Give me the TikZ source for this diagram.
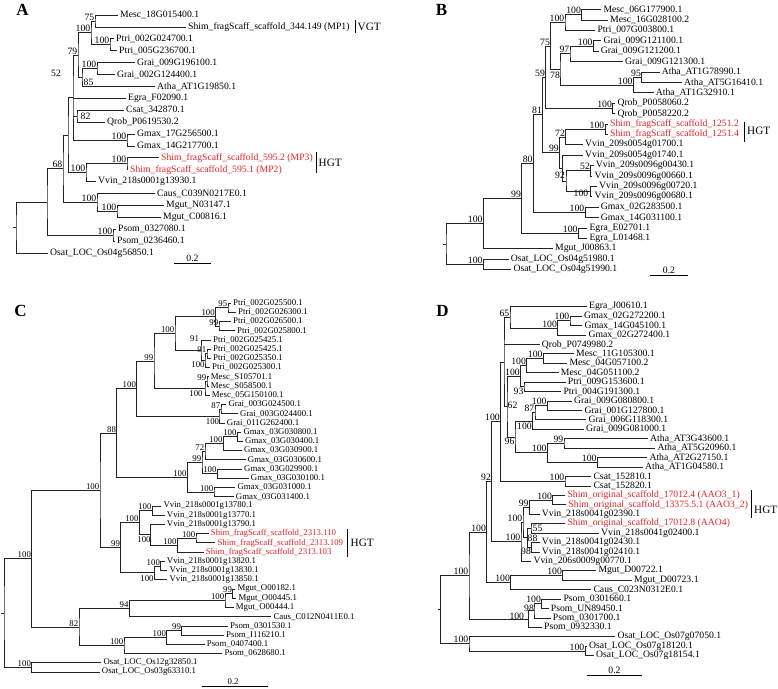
\documentclass[tikz,border=0pt]{standalone}
\usepackage{fontspec}
\setmainfont{Liberation Serif}
\usetikzlibrary{calc}
\definecolor{hgtred}{RGB}{225,35,40}
\definecolor{brc}{RGB}{35,35,35}
\newcommand\pfs{\fontsize{9.7}{11}\selectfont}
\tikzset{
 brn/.style={draw=brc,line width=0.75pt},
 leaflab/.style={anchor=west,inner sep=0pt,xshift=2pt,font=\pfs},
 bsl/.style={anchor=south east,inner sep=0.6pt,font=\pfs},
 bsc/.style={inner sep=0pt,font=\pfs},
 sbar/.style={draw=black,line width=0.8pt},
 grp/.style={anchor=west,inner sep=0pt,font=\fontsize{11.2}{13}\selectfont},
 panel/.style={font=\fontsize{17}{20}\selectfont\bfseries,inner sep=0pt},
 sclab/.style={anchor=south,inner sep=0.5pt,font=\pfs},
}
\newcommand\Tl[4]{\coordinate (#1) at (#2,#3); \node[leaflab] (#1t) at (#1) {#4};}
\newcommand\Tr[4]{\coordinate (#1) at (#2,#3); \node[leaflab,text=hgtred] (#1t) at (#1) {#4};}
\newcommand\Tn[4]{\path let \p1=(#3), \p2=(#4) in coordinate (#1) at (#2pt,{(\y1+\y2)/2}); \draw[brn] (#3) -| (#1) |- (#4);}
\newcommand\Tm[2]{\draw[brn] (#1 |- #2) -- (#2);}
\newcommand\Tb[2]{\node[bsl] (#1b) at (#1) {#2};}
\newcommand\Tx[4]{\node[bsc] (#1) at (#2,#3) {#4};}
\newcommand\Tt[1]{\coordinate (#1k) at ($(#1)+(-3,0)$); \draw[brn] (#1) -- (#1k);}
\begin{document}
\begin{tikzpicture}[x=1pt,y=-1pt]
\useasboundingbox (0,0) rectangle (778,688);
% ================= Panel A =================
\begin{scope}
\node[panel] (Alet) at (22.5,10) {A};
\Tl{a0}{118}{15}{Mesc\_18G015400.1}
\Tl{a1}{186}{26.9}{Shim\_fragScaff\_scaffold\_344.149 (MP1)}
\Tl{a2}{114}{38.8}{Ptri\_002G024700.1}
\Tl{a3}{117}{50.7}{Ptri\_005G236700.1}
\Tl{a4}{135}{62.6}{Grai\_009G196100.1}
\Tl{a5}{115}{74.5}{Grai\_002G124400.1}
\Tl{a6}{155}{86.4}{Atha\_AT1G19850.1}
\Tl{a7}{126}{98.3}{Egra\_F02090.1}
\Tl{a8}{124}{110.2}{Csat\_342870.1}
\Tl{a9}{105}{122.1}{Qrob\_P0619530.2}
\Tl{a10}{135}{134}{Gmax\_17G256500.1}
\Tl{a11}{135}{145.9}{Gmax\_14G217700.1}
\Tr{a12}{159}{157.8}{Shim\_fragScaff\_scaffold\_595.2 (MP3)}
\Tr{a13}{128}{169.7}{Shim\_fragScaff\_scaffold\_595.1 (MP2)}
\Tl{a14}{96}{181.6}{Vvin\_218s0001g13930.1}
\Tl{a15}{155}{193.5}{Caus\_C039N0217E0.1}
\Tl{a16}{164}{205.4}{Mgut\_N03147.1}
\Tl{a17}{161}{217.3}{Mgut\_C00816.1}
\Tl{a18}{116}{229.2}{Psom\_0327080.1}
\Tl{a19}{115}{241.1}{Psom\_0236460.1}
\Tl{a20}{48}{253}{Osat\_LOC\_Os04g56850.1}
\Tn{A75}{95}{a0}{a1} \Tb{A75}{75}
\Tn{AP}{110}{a2}{a3} \Tb{AP}{100}
\Tn{A100}{91}{A75}{AP} \Tb{A100}{100}
\Tn{AG}{97}{a4}{a5} \Tb{AG}{100}
\Tn{A85}{82}{AG}{a6} \Tx{A85b}{88.5}{82}{85}
\Tn{A79}{78}{A100}{A85} \Tb{A79}{79}
\Tn{ACQ}{77}{a8}{a9} \Tx{ACQb}{85.5}{116.5}{82}
\Tn{AGm}{127}{a10}{a11} \Tb{AGm}{100}
\Tn{A52}{73}{A79}{AGm} \Tm{A52}{a7} \Tm{A52}{ACQ}
\Tx{A52b}{56}{73.5}{52}
\Tn{AH}{127}{a12}{a13} \Tb{AH}{100}
\Tn{AHV}{86}{AH}{a14} \Tb{AHV}{100}
\Tn{A68}{68}{A52}{AHV}
\Tn{AM}{117}{a16}{a17} \Tb{AM}{100}
\Tn{ACM}{97}{a15}{AM} \Tb{ACM}{100}
\Tn{A63}{63}{A68}{ACM} \Tb{A63}{68}
\Tn{APs}{113}{a18}{a19} \Tb{APs}{100}
\Tn{A47}{47}{A63}{APs}
\Tn{Ar}{16}{A47}{a20} \Tt{Ar}
\coordinate (AHt) at (316,152); \coordinate (AHbt) at (316,173);
\draw[sbar] (AHt) -- (AHbt); \node[grp] (AHGT) at (318.5,163) {HGT};
\coordinate (AVt) at (355,20); \coordinate (AVbt) at (355,33);
\draw[sbar] (AVt) -- (AVbt); \node[grp] (AVGT) at (357.5,27) {VGT};
\coordinate (As1) at (174,263); \coordinate (As2) at (211,263);
\draw[sbar] (As1) -- (As2); \node[sclab] (Asl) at (192.5,262) {0.2};
\end{scope}
% ================= Panel B =================
\begin{scope}
\node[panel] (Blet) at (441.5,9.5) {B};
\Tl{b0}{601.3}{9.5}{Mesc\_06G177900.1}
\Tl{b1}{608}{19.9}{Mesc\_16G028100.2}
\Tl{b2}{595.3}{30.3}{Ptri\_007G003800.1}
\Tl{b3}{601.3}{40.7}{Grai\_009G121100.1}
\Tl{b4}{598.7}{51.1}{Grai\_009G121200.1}
\Tl{b5}{623}{61.5}{Grai\_009G121300.1}
\Tl{b6}{659.7}{71.9}{Atha\_AT1G78990.1}
\Tl{b7}{682}{82.3}{Atha\_AT5G16410.1}
\Tl{b8}{653.7}{92.7}{Atha\_AT1G32910.1}
\Tl{b9}{615.3}{103.1}{Qrob\_P0058060.2}
\Tl{b10}{615.3}{113.5}{Qrob\_P0058220.2}
\Tr{b11}{608}{123.9}{Shim\_fragScaff\_scaffold\_1251.2}
\Tr{b12}{608}{134.3}{Shim\_fragScaff\_scaffold\_1251.4}
\Tl{b13}{583}{144.7}{Vvin\_209s0054g01700.1}
\Tl{b14}{583}{155.1}{Vvin\_209s0054g01740.1}
\Tl{b15}{593.7}{165.5}{Vvin\_209s0096g00430.1}
\Tl{b16}{592.3}{175.9}{Vvin\_209s0096g00660.1}
\Tl{b17}{597}{186.3}{Vvin\_209s0096g00720.1}
\Tl{b18}{592.3}{196.7}{Vvin\_209s0096g00680.1}
\Tl{b19}{598.7}{207.1}{Gmax\_02G283500.1}
\Tl{b20}{598.7}{217.5}{Gmax\_14G031100.1}
\Tl{b21}{587.3}{227.9}{Egra\_E02701.1}
\Tl{b22}{587.3}{238.3}{Egra\_L01468.1}
\Tl{b23}{553}{248.7}{Mgut\_J00863.1}
\Tl{b24}{508.7}{259.1}{Osat\_LOC\_Os04g51980.1}
\Tl{b25}{511.3}{269.5}{Osat\_LOC\_Os04g51990.1}
\Tn{BMe}{581.7}{b0}{b1} \Tb{BMe}{100}
\Tn{BMP}{565}{BMe}{b2} \Tb{BMP}{100}
\Tn{BG12}{593.3}{b3}{b4} \Tb{BG12}{100}
\Tn{BG}{570}{BG12}{b5} \Tb{BG}{97}
\Tn{BA}{641.7}{b6}{b7} \Tb{BA}{95}
\Tn{BA2}{633.3}{BA}{b8} \Tb{BA2}{100}
\Tn{B78}{560}{BG}{BA2} \Tx{B78b}{555}{75}{78}
\Tn{B75}{550.7}{BMP}{B78} \Tb{B75}{75}
\Tn{BQ}{612.7}{b9}{b10} \Tb{BQ}{100}
\Tn{B59}{545.7}{B75}{BQ} \Tb{B59}{59}
\Tn{BS}{605}{b11}{b12} \Tb{BS}{100}
\Tn{B72}{565.7}{BS}{b13} \Tb{B72}{72}
\Tn{BV52}{590.7}{b15}{b16} \Tb{BV52}{52}
\Tn{BV100}{590.7}{b17}{b18} \Tx{BV100b}{581}{193.5}{100}
\Tn{B92}{566}{BV52}{BV100} \Tx{B92b}{560}{175}{92}
\Tn{BVv}{562.5}{b14}{B92}
\Tn{B99}{559.5}{B72}{BVv} \Tb{B99}{99}
\Tn{B81}{542.7}{B59}{B99} \Tb{B81}{81}
\Tn{BGm}{585}{b19}{b20} \Tb{BGm}{100}
\Tn{B80}{533.3}{B81}{BGm} \Tb{B80}{80}
\Tn{BE}{578.3}{b21}{b22} \Tb{BE}{100}
\Tn{B99b}{521.7}{B80}{BE} \Tb{B99b}{99}
\Tn{B100c}{483.3}{B99b}{b23} \Tb{B100c}{100}
\Tn{BO}{483.3}{b24}{b25} \Tb{BO}{100}
\Tn{Br}{446}{B100c}{BO} \Tt{Br}
\coordinate (BHt) at (744,122); \coordinate (BHbt) at (744,142);
\draw[sbar] (BHt) -- (BHbt); \node[grp] (BHGT) at (747,131) {HGT};
\coordinate (Bs1) at (650,275); \coordinate (Bs2) at (688,275);
\draw[sbar] (Bs1) -- (Bs2); \node[sclab] (Bsl) at (669,274) {0.2};
\end{scope}
% ================= Panel C =================
\begin{scope}
\renewcommand\pfs{\fontsize{8.8}{10}\selectfont}
\node[panel] (Clet) at (20.5,310.5) {C};
\Tl{c0}{231}{303}{Ptri\_002G025500.1}
\Tl{c1}{236}{312.23}{Ptri\_002G026300.1}
\Tl{c2}{231}{321.45}{Ptri\_002G026500.1}
\Tl{c3}{235}{330.68}{Ptri\_002G025800.1}
\Tl{c4}{211}{339.9}{Ptri\_002G025425.1}
\Tl{c5}{211}{349.13}{Ptri\_002G025425.1}
\Tl{c6}{211}{358.35}{Ptri\_002G025350.1}
\Tl{c7}{210}{367.58}{Ptri\_002G025300.1}
\Tl{c8}{208.7}{376.8}{Mesc\_S105701.1}
\Tl{c9}{208.7}{386.03}{Mesc\_S058500.1}
\Tl{c10}{209.7}{395.25}{Mesc\_05G150100.1}
\Tl{c11}{226.3}{404.48}{Grai\_003G024500.1}
\Tl{c12}{238}{413.7}{Grai\_003G024400.1}
\Tl{c13}{224.7}{422.93}{Grai\_011G262400.1}
\Tl{c14}{241.3}{432.15}{Gmax\_03G030800.1}
\Tl{c15}{243}{441.38}{Gmax\_03G030400.1}
\Tl{c16}{242}{450.6}{Gmax\_03G030900.1}
\Tl{c17}{245.7}{459.83}{Gmax\_03G030600.1}
\Tl{c18}{242}{469.05}{Gmax\_03G029900.1}
\Tl{c19}{248.7}{478.28}{Gmax\_03G030100.1}
\Tl{c20}{235.3}{487.5}{Gmax\_03G031000.1}
\Tl{c21}{233.7}{496.73}{Gmax\_03G031400.1}
\Tl{c22}{161.3}{505.95}{Vvin\_218s0001g13780.1}
\Tl{c23}{164.7}{515.18}{Vvin\_218s0001g13770.1}
\Tl{c24}{164.7}{524.4}{Vvin\_218s0001g13790.1}
\Tr{c25}{208.7}{533.63}{Shim\_fragScaff\_scaffold\_2313.110}
\Tr{c26}{215.3}{542.85}{Shim\_fragScaff\_scaffold\_2313.109}
\Tr{c27}{203.7}{552.08}{Shim\_fragScaff\_scaffold\_2313.103}
\Tl{c28}{164.7}{561.3}{Vvin\_218s0001g13820.1}
\Tl{c29}{167.3}{570.53}{Vvin\_218s0001g13830.1}
\Tl{c30}{167.3}{579.75}{Vvin\_218s0001g13850.1}
\Tl{c31}{235.3}{588.98}{Mgut\_O00182.1}
\Tl{c32}{236.3}{598.2}{Mgut\_O00445.1}
\Tl{c33}{233.7}{607.43}{Mgut\_O00444.1}
\Tl{c34}{271.3}{616.65}{Caus\_C012N0411E0.1}
\Tl{c35}{228}{625.88}{Psom\_0301530.1}
\Tl{c36}{224}{635.1}{Psom\_I116210.1}
\Tl{c37}{204.7}{644.33}{Psom\_0407400.1}
\Tl{c38}{222.3}{653.55}{Psom\_0628680.1}
\Tl{c39}{101.3}{662.78}{Osat\_LOC\_Os12g32850.1}
\Tl{c40}{99.7}{672}{Osat\_LOC\_Os03g63310.1}
\Tn{C95}{228}{c0}{c1} \Tb{C95}{95}
\Tn{C99p}{219}{c2}{c3} \Tb{C99p}{99}
\Tn{C100p}{215.5}{C95}{C99p} \Tb{C100p}{100}
\Tn{CPa}{207}{c5}{c6} \Tb{CPa}{91}
\Tn{CPb}{205}{CPa}{c7} \Tx{CPbb}{198}{365}{100}
\Tn{CPc}{201}{c4}{CPb} \Tx{CPcb}{194.5}{339}{91}
\Tn{C100q}{175}{C100p}{CPc} \Tb{C100q}{100}
\Tn{CM99}{207}{c8}{c9} \Tb{CM99}{99}
\Tn{CM100}{205}{CM99}{c10} \Tx{CM100b}{196}{393.5}{100}
\Tn{C99big}{154}{C100q}{CM100} \Tb{C99big}{99}
\Tn{CG87}{221}{c11}{c12} \Tb{CG87}{87}
\Tn{CG100}{219}{CG87}{c13} \Tx{CG100b}{212.5}{421.5}{100}
\Tn{C100h}{136.7}{C99big}{CG100} \Tb{C100h}{100}
\Tn{CX}{237.3}{c14}{c15} \Tb{CX}{100}
\Tn{CY}{223.3}{CX}{c16} \Tb{CY}{100}
\Tn{C72}{205}{CY}{c17} \Tb{C72}{72}
\Tn{CZ}{217.3}{c18}{c19} \Tb{CZ}{100}
\Tn{C99g}{202}{C72}{CZ} \Tb{C99g}{99}
\Tn{CW}{214}{c20}{c21} \Tb{CW}{100}
\Tn{CGm}{187.3}{C99g}{CW} \Tb{CGm}{100}
\Tn{C88}{116.7}{C100h}{CGm} \Tb{C88}{88}
\Tn{CV1}{152.3}{c22}{c23} \Tb{CV1}{100}
\Tn{CS2}{196}{c25}{c26} \Tb{CS2}{100}
\Tn{CS3}{177.3}{CS2}{c27} \Tb{CS3}{100}
\Tn{CV3}{150.7}{c24}{CS3} \Tx{CV3b}{144}{540}{100}
\Tn{CVV}{139.3}{CV1}{CV3} \Tb{CVV}{100}
\Tn{CV13}{160.7}{c28}{c29} \Tb{CV13}{100}
\Tn{CV14}{154.3}{CV13}{c30} \Tx{CV14b}{147}{578.5}{100}
\Tn{C99v}{120.7}{CVV}{CV14} \Tb{C99v}{99}
\Tn{C100t}{100}{C88}{C99v} \Tb{C100t}{100}
\Tn{CM1}{232.7}{c31}{c32} \Tb{CM1}{99}
\Tn{CM2}{225}{CM1}{c33} \Tb{CM2}{100}
\Tn{C94}{129.3}{CM2}{c34} \Tb{C94}{94}
\Tn{CP1}{181.7}{c35}{c36} \Tb{CP1}{99}
\Tn{CP2}{166.7}{CP1}{c37} \Tb{CP2}{100}
\Tn{CP3}{124}{CP2}{c38} \Tb{CP3}{100}
\Tn{C82}{79}{C94}{CP3} \Tb{C82}{82}
\Tn{CL}{31.7}{C100t}{C82} \Tb{CL}{100}
\Tn{CO}{31.7}{c39}{c40} \Tb{CO}{100}
\Tn{Cr}{4}{CL}{CO} \Tt{Cr}
\coordinate (CHt) at (347.7,529); \coordinate (CHbt) at (347.7,557);
\draw[sbar] (CHt) -- (CHbt); \node[grp] (CHGT) at (350.5,543) {HGT};
\coordinate (Cs1) at (202,686); \coordinate (Cs2) at (268,686);
\draw[sbar] (Cs1) -- (Cs2); \node[sclab] (Csl) at (233,685) {0.2};
\end{scope}
% ================= Panel D =================
\begin{scope}
\node[panel] (Dlet) at (442.5,310.5) {D};
\Tl{d0}{587}{306.7}{Egra\_J00610.1}
\Tl{d1}{582}{316.13}{Gmax\_02G272200.1}
\Tl{d2}{582.3}{325.56}{Gmax\_14G045100.1}
\Tl{d3}{586.3}{334.99}{Gmax\_02G272400.1}
\Tl{d4}{539.7}{344.42}{Qrob\_P0749980.2}
\Tl{d5}{574}{353.85}{Mesc\_11G105300.1}
\Tl{d6}{567.3}{363.28}{Mesc\_04G057100.2}
\Tl{d7}{558.7}{372.71}{Mesc\_04G051100.2}
\Tl{d8}{565.7}{382.14}{Ptri\_009G153600.1}
\Tl{d9}{561.3}{391.57}{Ptri\_004G191300.1}
\Tl{d10}{572}{401}{Grai\_009G080800.1}
\Tl{d11}{582.3}{410.43}{Grai\_001G127800.1}
\Tl{d12}{586.3}{419.86}{Grai\_006G118300.1}
\Tl{d13}{584}{429.29}{Grai\_009G081000.1}
\Tl{d14}{648}{438.72}{Atha\_AT3G43600.1}
\Tl{d15}{655.3}{448.15}{Atha\_AT5G20960.1}
\Tl{d16}{647.3}{457.58}{Atha\_AT2G27150.1}
\Tl{d17}{643}{467.01}{Atha\_AT1G04580.1}
\Tl{d18}{591.3}{476.44}{Csat\_152810.1}
\Tl{d19}{591.3}{485.87}{Csat\_152820.1}
\Tr{d20}{565.3}{495.3}{Shim\_original\_scaffold\_17012.4 (AAO3\_1)}
\Tr{d21}{566.3}{504.73}{Shim\_original\_scaffold\_13375.5.1 (AAO3\_2)}
\Tl{d22}{539.7}{514.16}{Vvin\_218s0041g02390.1}
\Tr{d23}{565.3}{523.59}{Shim\_original\_scaffold\_17012.8 (AAO4)}
\Tl{d24}{599}{533.02}{Vvin\_218s0041g02400.1}
\Tl{d25}{539.7}{542.45}{Vvin\_218s0041g02430.1}
\Tl{d26}{539.7}{551.88}{Vvin\_218s0041g02410.1}
\Tl{d27}{531.3}{561.31}{Vvin\_206s0009g00770.1}
\Tl{d28}{596.3}{570.74}{Mgut\_D00722.1}
\Tl{d29}{632}{580.17}{Mgut\_D00723.1}
\Tl{d30}{591.3}{589.6}{Caus\_C023N0312E0.1}
\Tl{d31}{561.3}{599.03}{Psom\_0301660.1}
\Tl{d32}{548.7}{608.46}{Psom\_UN89450.1}
\Tl{d33}{550.7}{617.89}{Psom\_0301700.1}
\Tl{d34}{542}{627.32}{Psom\_0932330.1}
\Tl{d35}{615.3}{636.75}{Osat\_LOC\_Os07g07050.1}
\Tl{d36}{587}{646.18}{Osat\_LOC\_Os07g18120.1}
\Tl{d37}{594}{655.61}{Osat\_LOC\_Os07g18154.1}
\Tn{DGm1}{570}{d1}{d2} \Tb{DGm1}{100}
\Tn{DGm2}{557.7}{DGm1}{d3} \Tb{DGm2}{100}
\Tn{D65}{510}{d0}{DGm2} \Tb{D65}{65}
\Tn{DMe1}{543.3}{d5}{d6} \Tb{DMe1}{100}
\Tn{DMe2}{526.7}{DMe1}{d7} \Tb{DMe2}{100}
\Tn{DPt}{524}{d8}{d9} \Tx{DPtb}{518.5}{391.5}{93}
\Tn{DMP}{520.5}{DMe2}{DPt} \Tb{DMP}{100}
\Tn{DGr1}{547.3}{d10}{d11} \Tb{DGr1}{100}
\Tn{DGr2}{535}{DGr1}{d12} \Tb{DGr2}{87}
\Tn{DGr3}{532.3}{DGr2}{d13} \Tx{DGr3b}{524.5}{426.5}{100}
\Tn{DAt1}{564}{d14}{d15} \Tb{DAt1}{99}
\Tn{DAt2}{597.3}{d16}{d17} \Tb{DAt2}{100}
\Tn{DAt}{547.3}{DAt1}{DAt2} \Tb{DAt}{100}
\Tn{DGA}{515}{DGr3}{DAt} \Tx{DGAb}{509.5}{441}{96}
\Tn{D62}{507}{DMP}{DGA} \Tx{D62b}{512.5}{405}{62}
\Tn{DX}{504}{D65}{D62} \Tm{DX}{d4}
\Tn{DCs}{565}{d18}{d19} \Tb{DCs}{100}
\Tn{D100D}{500.5}{DX}{DCs} \Tb{D100D}{100}
\Tn{DSh1}{552.7}{d20}{d21} \Tb{DSh1}{100}
\Tn{D99s}{529.3}{DSh1}{d22} \Tb{D99s}{99}
\Tn{D55}{531}{d23}{d24} \Tx{D55b}{537.5}{528.5}{55}
\Tn{D98}{531.5}{d25}{d26} \Tx{D98b}{526}{551.5}{98}
\Tn{D88}{527.5}{D55}{D98} \Tx{D88b}{532.5}{538.5}{88}
\Tn{D100a}{523}{D99s}{D88} \Tb{D100a}{100}
\Tn{D100b}{521}{D100a}{d27} \Tb{D100b}{100}
\Tn{D92}{491.7}{D100D}{D100b} \Tb{D92}{92}
\Tn{DMg}{562.7}{d28}{d29} \Tb{DMg}{100}
\Tn{DMC}{510.7}{DMg}{d30} \Tb{DMC}{100}
\Tn{DP2}{486.7}{D92}{DMC} \Tb{DP2}{100}
\Tn{DPs1}{541.7}{d31}{d32} \Tb{DPs1}{100}
\Tn{DPs2}{534}{DPs1}{d33} \Tx{DPs2b}{529}{608.3}{98}
\Tn{DPs3}{528.3}{DPs2}{d34} \Tx{DPs3b}{516.8}{616}{100}
\Tn{D100e}{469}{DP2}{DPs3} \Tb{D100e}{100}
\Tn{DOs1}{585}{d36}{d37} \Tb{DOs1}{100}
\Tn{DOs}{469}{d35}{DOs1} \Tb{DOs}{100}
\Tn{Dr}{440.7}{D100e}{DOs} \Tt{Dr}
\coordinate (DHt) at (751.7,490); \coordinate (DHbt) at (751.7,518);
\draw[sbar] (DHt) -- (DHbt); \node[grp] (DHGT) at (754,510) {HGT};
\coordinate (Ds1) at (586.7,675.7); \coordinate (Ds2) at (642.3,675.7);
\draw[sbar] (Ds1) -- (Ds2); \node[sclab] (Dsl) at (614.5,674.5) {0.2};
\end{scope}
\end{tikzpicture}
\end{document}
